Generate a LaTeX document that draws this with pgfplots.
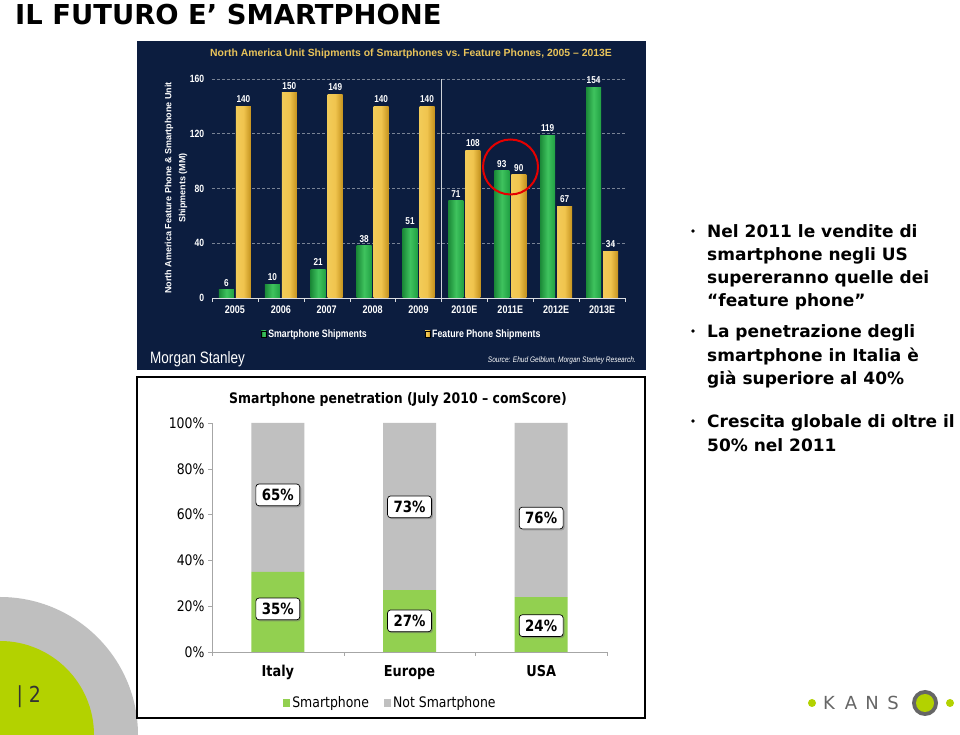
\documentclass[border=0pt]{standalone}
\usepackage{fontspec}
\usepackage{pgfplots}
\pgfplotsset{compat=1.18}
\usetikzlibrary{shadows}
\setmainfont{DejaVu Sans}
\newfontfamily\tah[FakeStretch=0.86]{DejaVu Sans}
\newfontfamily\ms[FakeStretch=0.82]{Liberation Sans}
\newfontfamily\msn{Liberation Sans}
\newcommand\fs[1]{\fontsize{#1}{#1}\selectfont}
\definecolor{navy}{HTML}{0C1D3F}
\definecolor{msgold}{HTML}{E8C35A}
\definecolor{gA}{HTML}{1B8A38}
\definecolor{gB}{HTML}{3FC35E}
\definecolor{gC}{HTML}{20A043}
\definecolor{yA}{HTML}{F2CB58}
\definecolor{yB}{HTML}{F0C44E}
\definecolor{yC}{HTML}{C4921E}
\definecolor{spgreen}{HTML}{92D050}
\definecolor{spgray}{HTML}{C0C0C0}
\definecolor{ringgray}{HTML}{BFBFBF}
\definecolor{lime}{HTML}{B3D200}
\definecolor{kgray}{HTML}{666666}
\pgfplotsset{
  sqbot/.style={legend image code/.code={\fill[##1] (0pt,-4pt) rectangle (7pt,4pt);}},
  % eine Saeule pro Plot, damit jede Saeule ihren eigenen Verlauf bekommt
  msg/.style={ybar, bar width=15pt, bar shift=-8.5pt, draw=none, forget plot,
    left color=gA, right color=gC, middle color=gB,
    nodes near coords, every node near coord/.append style={xshift=-8.5pt}},
  msy/.style={ybar, bar width=15pt, bar shift=8.5pt, draw=none, forget plot,
    left color=yA, right color=yC, middle color=yB,
    nodes near coords, every node near coord/.append style={xshift=8.5pt}},
}
\begin{document}
\begin{tikzpicture}[x=1pt,y=1pt]
\fill[white] (0,0) rectangle (960,735);
\useasboundingbox (0,0) rectangle (960,735);

% --- Ecke unten links
\fill[ringgray] (0,0) -- (138,0) arc[start angle=0,end angle=90,radius=138] -- cycle;
\fill[lime] (0,0) -- (94,0) arc[start angle=0,end angle=90,radius=94] -- cycle;
\node[anchor=west, text=black!80, font=\tah\fs{22}] at (13,38) {| 2};

% --- Folientitel
\node[anchor=base west, font=\bfseries\fs{27.4}, inner sep=0] at (15,710) {IL FUTURO E’ SMARTPHONE};

% --- Morgan Stanley Grafik
\fill[navy] (137,365) rectangle (646,694);
\begin{axis}[
  at={(212pt,437pt)}, anchor=south west,
  scale only axis, width=413pt, height=219pt,
  xmin=-0.5, xmax=8.5, ymin=0, ymax=160,
  /pgf/number format/assume math mode=true,
  axis x line*=bottom, axis y line*=left,
  y axis line style={draw=none},
  x axis line style={white!85!navy, line width=0.8pt},
  ytick={0,40,...,160},
  ymajorgrids, grid style={densely dashed, white!45!navy, line width=0.5pt},
  ytick style={draw=none},
  yticklabel style={text=white, font=\ms\bfseries\fs{10.5}},
  xtick={0,...,8},
  xticklabels={2005,2006,2007,2008,2009,2010E,2011E,2012E,2013E},
  xticklabel style={text=white, font=\ms\bfseries\fs{11}},
  major x tick style={draw=none},
  minor xtick={-0.5,0.5,1.5,2.5,3.5,4.5,5.5,6.5,7.5,8.5},
  minor x tick style={white!85!navy},
  minor tick length=4pt, tick align=outside,
  legend style={at={(0.118,-0.164)}, anchor=west, draw=none, fill=none,
    legend columns=2, text=white, font=\ms\bfseries\fs{10.7}, inner sep=0pt,
    /tikz/every even column/.append style={column sep=56pt}},
  legend cell align=left,
  nodes near coords style={text=white, font=\ms\bfseries\fs{10}},
]
% Smartphone Shipments
\addplot[msg] coordinates {(0,6)};
\addplot[msg] coordinates {(1,10)};
\addplot[msg] coordinates {(2,21)};
\addplot[msg] coordinates {(3,38)};
\addplot[msg] coordinates {(4,51)};
\addplot[msg] coordinates {(5,71)};
\addplot[msg] coordinates {(6,93)};
\addplot[msg] coordinates {(7,119)};
\addplot[msg] coordinates {(8,154)};
% Feature Phone Shipments
\addplot[msy] coordinates {(0,140)};
\addplot[msy] coordinates {(1,150)};
\addplot[msy] coordinates {(2,149)};
\addplot[msy] coordinates {(3,140)};
\addplot[msy] coordinates {(4,140)};
\addplot[msy] coordinates {(5,108)};
\addplot[msy] coordinates {(6,90)};
\addplot[msy] coordinates {(7,67)};
\addplot[msy] coordinates {(8,34)};
\addlegendimage{legend image code/.code={\fill[left color=gA, right color=gC, middle color=gB] (0pt,-3pt) rectangle (5pt,3pt);}}
\addlegendentry{Smartphone Shipments}
\addlegendimage{legend image code/.code={\fill[left color=yA, right color=yC, middle color=yB] (0pt,-3pt) rectangle (5pt,3pt);}}
\addlegendentry{Feature Phone Shipments}
\draw[white!80!navy, line width=0.8pt] (axis cs:4.5,0) -- (axis cs:4.5,160);
\end{axis}
\draw[red!90!black, line width=2pt] (510.5,568) circle[radius=27.5];
\node[text=msgold, font=\msn\bfseries\fs{10.4}] at (411,681)
  {North America Unit Shipments of Smartphones vs.\ Feature Phones, 2005 – 2013E};
\node[rotate=90, align=center, text=white, font=\msn\bfseries\fontsize{9}{14}\selectfont, inner sep=0]
  at (176,547) {North America Feature Phone \& Smartphone Unit\\Shipments (MM)};
\node[anchor=west, text=white, font=\ms\fs{16.5}, inner sep=0] at (150,376) {Morgan Stanley};
\node[anchor=east, text=white, font=\ms\itshape\fs{8}, inner sep=0] at (636,375)
  {Source: Ehud Gelblum, Morgan Stanley Research.};

% --- Penetration Grafik
\draw[black, line width=1.2pt, fill=white] (137,17) rectangle (645,358);
\begin{axis}[
  at={(212pt,83pt)}, anchor=south west,
  scale only axis, width=395pt, height=229pt,
  xmin=-0.5, xmax=2.5, ymin=0, ymax=100,
  ybar stacked, bar width=53pt,
  axis x line*=bottom, axis y line*=left,
  axis line style={black!35, line width=0.6pt},
  ytick={0,20,...,100},
  yticklabels={0\%,20\%,40\%,60\%,80\%,100\%},
  yticklabel style={font=\tah\fs{14.5}},
  xtick={0,1,2}, xticklabels={Italy,Europe,USA},
  xticklabel style={font=\tah\bfseries\fs{15}, yshift=-6pt},
  major x tick style={draw=none},
  minor xtick={-0.5,0.5,1.5,2.5},
  tick style={black!35},
  major tick length=4pt, minor tick length=4pt, tick align=outside,
  legend style={at={(0.18,-0.223)}, anchor=west, draw=none, fill=none,
    legend columns=2, font=\tah\fs{14.5}, inner sep=0pt,
    /tikz/every even column/.append style={column sep=13pt}},
  legend cell align=left,
]
\addplot[fill=spgreen, draw=none, sqbot] coordinates {(0,35) (1,27) (2,24)};
\addplot[fill=spgray, draw=none, sqbot] coordinates {(0,65) (1,73) (2,76)};
\legend{Smartphone, Not Smartphone}
\end{axis}
\begin{axis}[
  at={(212pt,83pt)}, anchor=south west,
  scale only axis, width=395pt, height=229pt,
  xmin=-0.5, xmax=2.5, ymin=0, ymax=100, hide axis,
]
\addplot[draw=none, mark=none, nodes near coords, point meta=explicit symbolic,
  nodes near coords style={anchor=center, draw=black, fill=white, rounded corners=3pt,
    line width=0.7pt, inner xsep=6pt, inner ysep=5pt, font=\tah\bfseries\fs{15.5},
    drop shadow={shadow xshift=1.5pt, shadow yshift=-1.5pt, fill=black!55}}]
  coordinates {(0,68.6) [65\%] (1,63.4) [73\%] (2,58.5) [76\%]
               (0,18.8) [35\%] (1,13.6) [27\%] (2,11.5) [24\%]};
\end{axis}
\node[font=\tah\bfseries\fs{14.5}] at (398,335) {Smartphone penetration (July 2010 – comScore)};

% --- Text rechts
\begin{scope}[every node/.style={anchor=base west, inner sep=0, font=\bfseries\fs{17}}]
\node at (707,497) {Nel 2011 le vendite di};
\node at (707,474) {smartphone negli US};
\node at (707,451) {supereranno quelle dei};
\node at (707,428) {“feature phone”};
\node at (707,397) {La penetrazione degli};
\node at (707,373) {smartphone in Italia è};
\node at (707,350) {già superiore al 40\%};
\node at (707,307) {Crescita globale di oltre il};
\node at (707,283) {50\% nel 2011};
\end{scope}
\fill[black] (693,504) circle[radius=1.8];
\fill[black] (693,404) circle[radius=1.8];
\fill[black] (693,314) circle[radius=1.8];

% --- KANSO Logo
\fill[lime] (812,32) circle[radius=4];
\node[font=\fs{18}, text=kgray] at (829,32) {K};
\node[font=\fs{18}, text=kgray] at (851,32) {A};
\node[font=\fs{18}, text=kgray] at (872,32) {N};
\node[font=\fs{18}, text=kgray] at (893,32) {S};
\fill[kgray] (925,32) circle[radius=13];
\fill[lime] (925,32) circle[radius=9];
\fill[lime] (950,32) circle[radius=4];
\end{tikzpicture}
\end{document}
